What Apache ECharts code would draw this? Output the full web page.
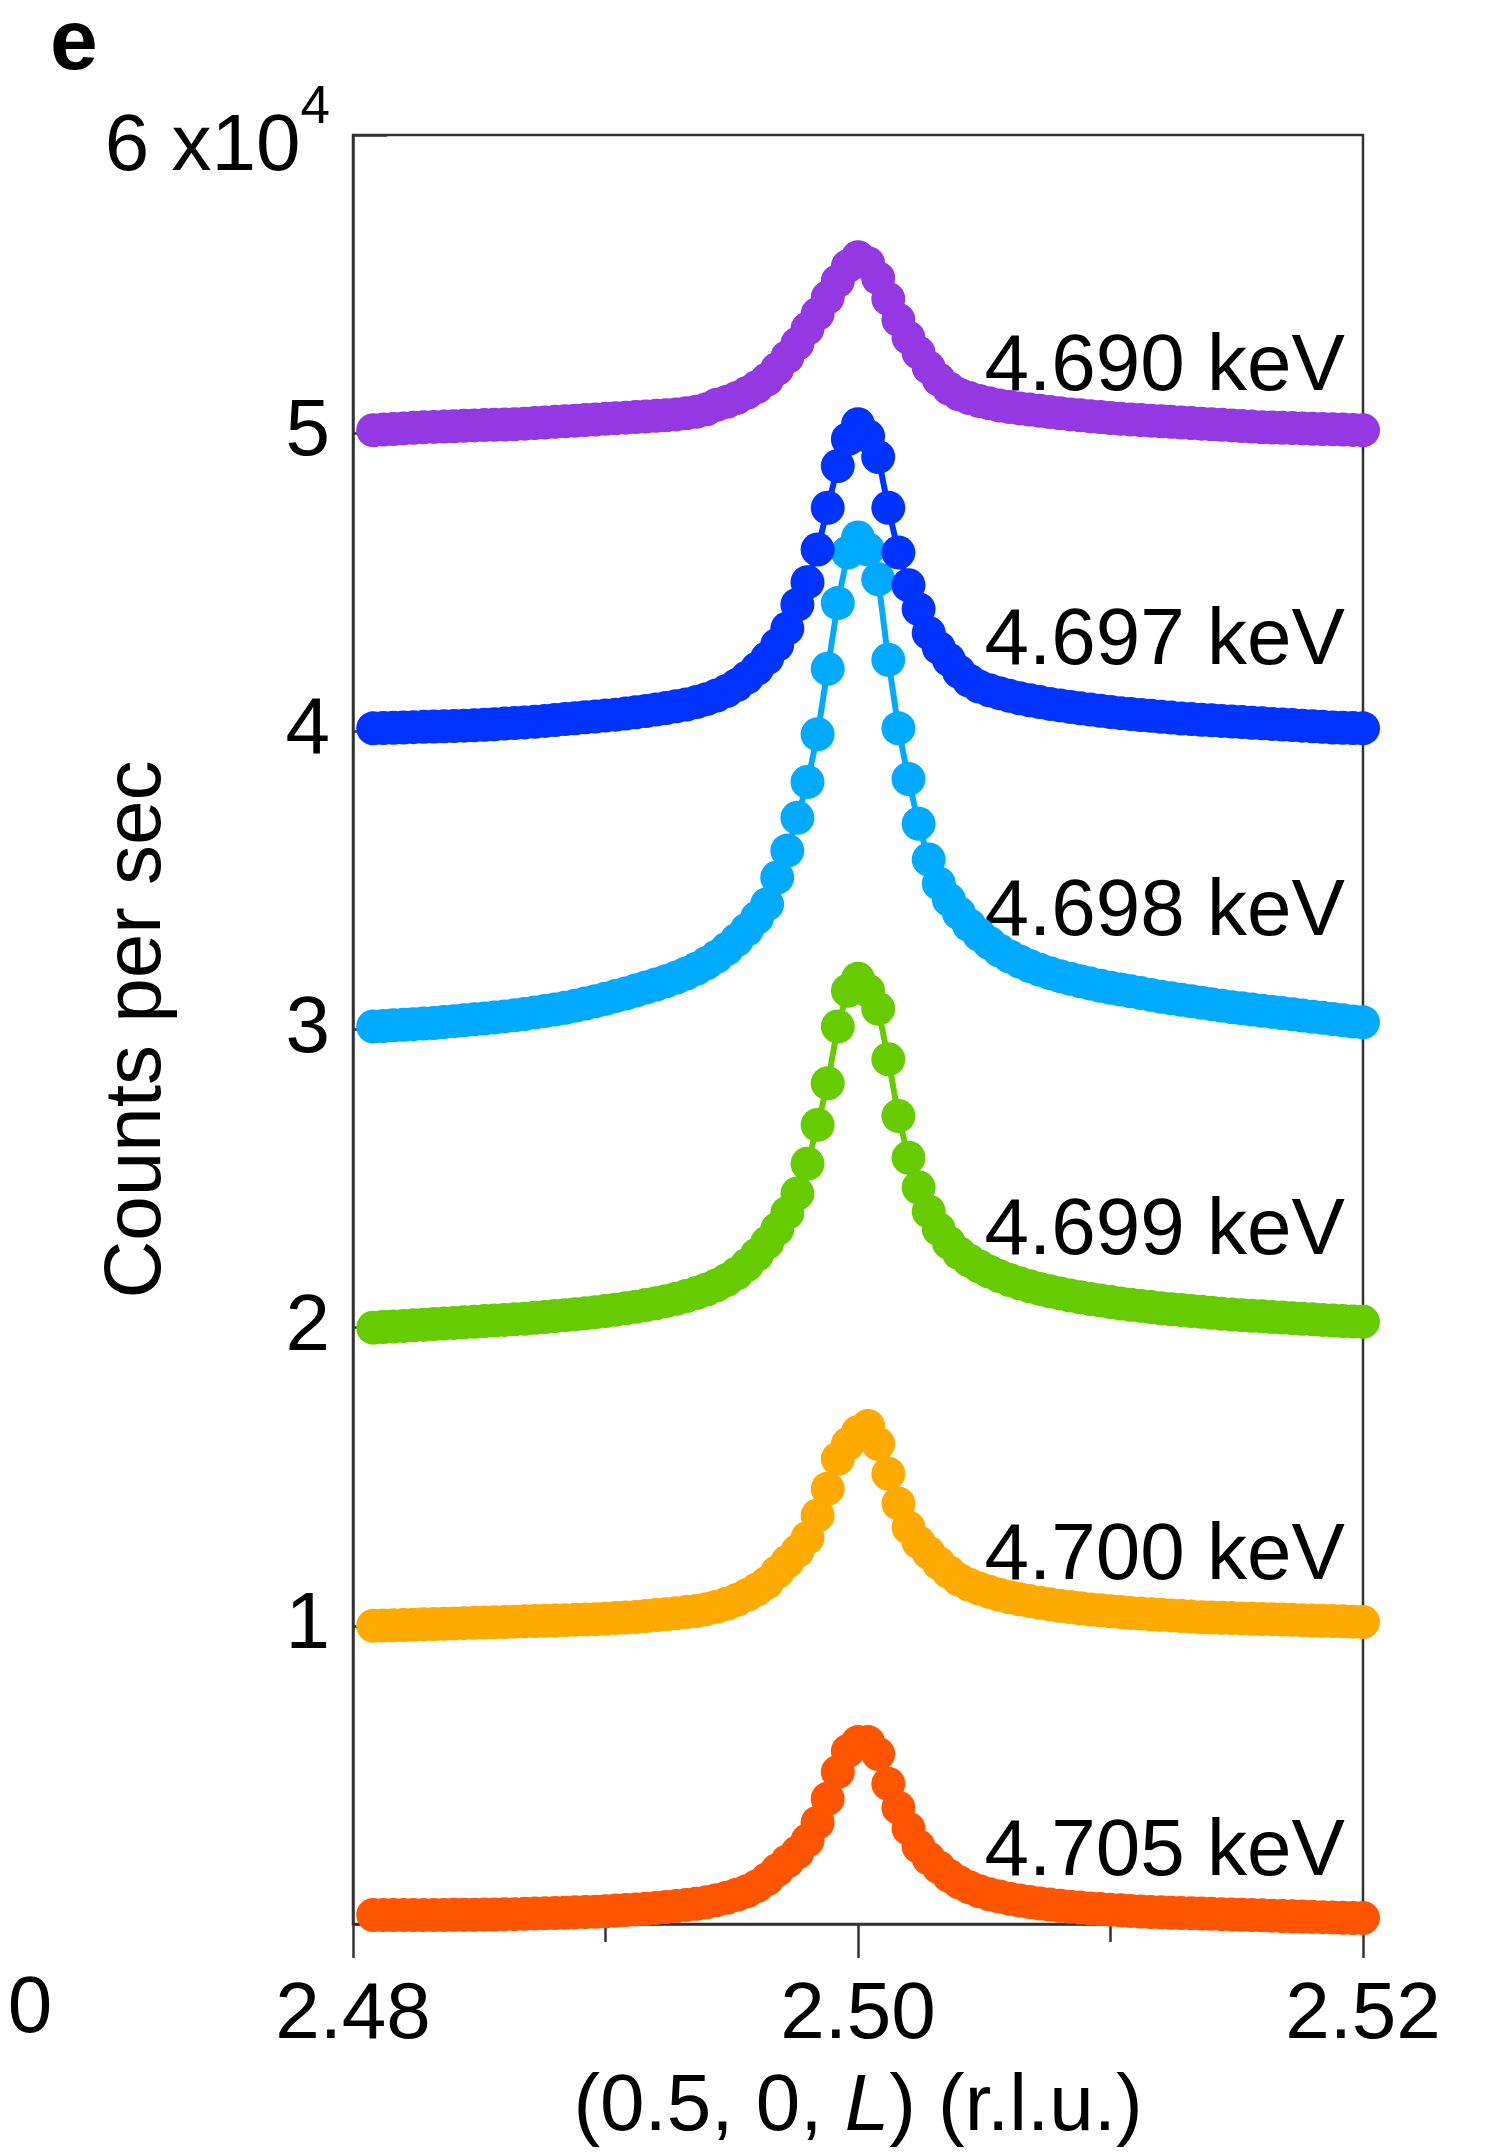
<!DOCTYPE html>
<html>
<head>
<meta charset="utf-8">
<script src="https://cdn.jsdelivr.net/npm/echarts/dist/echarts.min.js"></script>
<style>
html,body{margin:0;padding:0;background:#fff;}
#chart{width:1502px;height:2155px;}
</style>
</head>
<body>
<div id="chart"></div>
<script>
// ---- DATA ----
// L positions (r.l.u.)
const L = [
2.4808,2.4812,2.4816,2.4820,2.4824,2.4828,2.4832,2.4836,2.4840,2.4844,
2.4848,2.4852,2.4856,2.4860,2.4864,2.4868,2.4872,2.4876,2.4880,2.4884,
2.4888,2.4892,2.4896,2.4900,2.4904,2.4908,2.4912,2.4916,2.4920,2.4924,
2.4928,2.4932,2.4936,2.4940,2.4944,2.4948,2.4952,2.4956,2.4960,2.4964,
2.4968,2.4972,2.4976,2.4980,2.4984,2.4988,2.4992,2.4996,2.5000,2.5004,
2.5008,2.5012,2.5016,2.5020,2.5024,2.5028,2.5032,2.5036,2.5040,2.5044,
2.5048,2.5052,2.5056,2.5060,2.5064,2.5068,2.5072,2.5076,2.5080,2.5084,
2.5088,2.5092,2.5096,2.5100,2.5104,2.5108,2.5112,2.5116,2.5120,2.5124,
2.5128,2.5132,2.5136,2.5140,2.5144,2.5148,2.5152,2.5156,2.5160,2.5164,
2.5168,2.5172,2.5176,2.5180,2.5184,2.5188,2.5192,2.5196,2.5200];

// Counts per sec (x10^4), vertically offset curves
const cps4690 = [
5.010,5.012,5.014,5.016,5.018,5.020,5.021,5.022,5.023,5.025,
5.026,5.027,5.028,5.029,5.030,5.032,5.034,5.036,5.038,5.040,
5.042,5.044,5.046,5.048,5.050,5.052,5.054,5.056,5.058,5.060,
5.063,5.067,5.072,5.080,5.095,5.105,5.118,5.135,5.155,5.180,
5.215,5.255,5.300,5.350,5.400,5.455,5.510,5.560,5.590,5.570,
5.520,5.450,5.380,5.320,5.270,5.220,5.180,5.150,5.130,5.118,
5.108,5.100,5.093,5.088,5.083,5.079,5.075,5.071,5.067,5.063,
5.060,5.057,5.054,5.051,5.048,5.046,5.044,5.042,5.040,5.038,
5.036,5.034,5.032,5.030,5.028,5.026,5.024,5.022,5.020,5.019,
5.018,5.017,5.016,5.015,5.014,5.013,5.012,5.011,5.010];
const cps4697 = [
4.010,4.011,4.012,4.013,4.014,4.015,4.016,4.017,4.018,4.019,
4.020,4.022,4.024,4.026,4.028,4.030,4.032,4.035,4.038,4.041,
4.044,4.047,4.050,4.053,4.056,4.060,4.064,4.068,4.073,4.078,
4.084,4.090,4.098,4.108,4.120,4.135,4.155,4.180,4.210,4.245,
4.290,4.345,4.425,4.500,4.610,4.750,4.890,4.980,5.030,4.990,
4.920,4.750,4.600,4.490,4.410,4.330,4.280,4.240,4.200,4.170,
4.150,4.138,4.128,4.119,4.111,4.104,4.098,4.092,4.087,4.082,
4.077,4.073,4.069,4.065,4.061,4.058,4.055,4.052,4.049,4.046,
4.043,4.041,4.039,4.037,4.035,4.033,4.031,4.029,4.027,4.025,
4.023,4.021,4.019,4.017,4.015,4.013,4.012,4.011,4.010];
const cps4698 = [
3.010,3.012,3.014,3.016,3.018,3.020,3.022,3.025,3.028,3.031,
3.034,3.037,3.040,3.044,3.048,3.052,3.057,3.062,3.067,3.073,
3.080,3.087,3.095,3.103,3.112,3.121,3.131,3.141,3.151,3.162,
3.174,3.188,3.204,3.222,3.244,3.270,3.300,3.335,3.375,3.420,
3.510,3.600,3.710,3.830,3.990,4.210,4.430,4.600,4.650,4.610,
4.510,4.240,4.010,3.840,3.690,3.570,3.490,3.435,3.390,3.350,
3.318,3.290,3.265,3.245,3.228,3.213,3.200,3.189,3.179,3.170,
3.162,3.154,3.147,3.140,3.134,3.128,3.122,3.116,3.110,3.105,
3.100,3.095,3.090,3.085,3.080,3.075,3.071,3.067,3.063,3.059,
3.055,3.051,3.047,3.043,3.039,3.035,3.031,3.027,3.024];
const cps4699 = [
2.000,2.002,2.004,2.006,2.008,2.010,2.012,2.014,2.016,2.018,
2.020,2.022,2.024,2.026,2.028,2.030,2.033,2.036,2.039,2.042,
2.045,2.048,2.052,2.056,2.060,2.065,2.070,2.076,2.082,2.089,
2.097,2.106,2.116,2.128,2.142,2.160,2.182,2.210,2.245,2.285,
2.330,2.385,2.450,2.550,2.680,2.820,3.010,3.130,3.170,3.130,
3.070,2.900,2.710,2.570,2.470,2.390,2.330,2.285,2.250,2.225,
2.205,2.188,2.173,2.160,2.149,2.139,2.130,2.122,2.115,2.108,
2.102,2.096,2.091,2.086,2.081,2.077,2.073,2.069,2.065,2.062,
2.059,2.056,2.053,2.050,2.047,2.044,2.042,2.040,2.038,2.036,
2.034,2.032,2.030,2.028,2.026,2.024,2.022,2.021,2.020];
const cps4700 = [
1.000,1.001,1.002,1.003,1.004,1.005,1.006,1.007,1.008,1.009,
1.010,1.011,1.012,1.013,1.014,1.015,1.016,1.017,1.018,1.019,
1.020,1.021,1.022,1.024,1.026,1.028,1.030,1.033,1.036,1.039,
1.042,1.046,1.050,1.056,1.064,1.074,1.087,1.103,1.122,1.145,
1.180,1.215,1.250,1.295,1.370,1.460,1.560,1.610,1.650,1.670,
1.610,1.510,1.410,1.330,1.280,1.245,1.210,1.180,1.155,1.138,
1.125,1.114,1.104,1.096,1.089,1.083,1.077,1.072,1.067,1.063,
1.059,1.055,1.052,1.049,1.046,1.043,1.041,1.039,1.037,1.035,
1.033,1.031,1.029,1.028,1.027,1.026,1.025,1.024,1.023,1.022,
1.021,1.020,1.019,1.018,1.017,1.016,1.015,1.014,1.013];
const cps4705 = [
0.030,0.030,0.030,0.030,0.030,0.030,0.030,0.030,0.031,0.031,
0.031,0.032,0.032,0.033,0.033,0.034,0.035,0.036,0.037,0.038,
0.039,0.040,0.041,0.043,0.045,0.047,0.049,0.051,0.054,0.057,
0.060,0.064,0.068,0.073,0.080,0.088,0.098,0.110,0.127,0.150,
0.180,0.210,0.240,0.280,0.340,0.420,0.510,0.580,0.610,0.610,
0.570,0.470,0.390,0.320,0.260,0.220,0.190,0.162,0.140,0.123,
0.110,0.100,0.092,0.085,0.079,0.074,0.069,0.065,0.061,0.058,
0.055,0.052,0.050,0.048,0.046,0.044,0.042,0.040,0.039,0.038,
0.037,0.036,0.035,0.034,0.033,0.032,0.031,0.030,0.029,0.028,
0.027,0.026,0.025,0.024,0.023,0.022,0.021,0.020,0.020];

const energies = ['4.705 keV','4.700 keV','4.699 keV','4.698 keV','4.697 keV','4.690 keV'];
const xTicks = [2.48, 2.50, 2.52];
const yTicks = [0, 1, 2, 3, 4, 5, 6];

// ---- STYLE / LAYOUT ----
const seriesValues = [cps4705, cps4700, cps4699, cps4698, cps4697, cps4690];
const colors = ['#FF5500', '#FFAA00', '#66CC00', '#00AAFF', '#0033FF', '#9338E2'];
// label anchors (right edge, vertical centre) in data coordinates
const labelAnchor = [[2.5193, 0.24], [2.5193, 1.23], [2.5193, 2.32], [2.5193, 3.39], [2.5193, 4.30], [2.5193, 5.22]];
const FONT = '"Liberation Sans", Arial, Helvetica, sans-serif';

const chart = echarts.init(document.getElementById('chart'), null, {renderer: 'canvas'});

const series = energies.map((name, s) => ({
  type: 'line',
  name: name,
  data: L.map((x, i) => [x, seriesValues[s][i]]),
  symbol: 'circle',
  symbolSize: 34,
  showSymbol: true,
  showAllSymbol: true,
  clip: false,
  z: 3 + s,
  itemStyle: {color: colors[s]},
  lineStyle: {color: colors[s], width: 6},
  emphasis: {disabled: true},
  markPoint: {
    silent: true,
    symbol: 'circle',
    symbolSize: 1,
    itemStyle: {color: 'rgba(0,0,0,0)'},
    label: {show: true, position: 'left', distance: 0, formatter: '{b}', fontSize: 80, color: '#000', fontFamily: FONT},
    data: [{name: name, coord: labelAnchor[s]}]
  }
}));

const option = {
  animation: false,
  backgroundColor: '#fff',
  textStyle: {fontFamily: FONT},
  grid: {left: 353, top: 135, width: 1010, height: 1789, show: true, borderColor: '#333', borderWidth: 2.5, backgroundColor: 'transparent'},
  xAxis: {
    type: 'value', min: xTicks[0], max: xTicks[xTicks.length - 1], interval: xTicks[1] - xTicks[0],
    name: '(0.5, 0, {i|L}) (r.l.u.)', nameLocation: 'middle', nameGap: 144, nameMoveOverlap: false,
    nameTextStyle: {fontSize: 80, color: '#000', fontFamily: FONT,
      rich: {i: {fontStyle: 'italic', fontSize: 80, color: '#000', fontFamily: FONT}}},
    axisLine: {lineStyle: {color: '#333', width: 2.5}},
    axisTick: {show: true, inside: false, length: 34, lineStyle: {color: '#333', width: 2.5}},
    minorTick: {show: true, splitNumber: 2, length: 18, lineStyle: {color: '#333', width: 2.5}},
    axisLabel: {fontSize: 80, color: '#000', margin: 52, fontFamily: FONT, showMinLabel: true, showMaxLabel: true,
      formatter: v => v.toFixed(2)},
    splitLine: {show: false}
  },
  yAxis: {
    type: 'value', min: yTicks[0], max: yTicks[yTicks.length - 1], interval: 1,
    name: 'Counts per sec', nameLocation: 'middle', nameGap: 175, nameRotate: 90, nameMoveOverlap: false,
    nameTextStyle: {fontSize: 80, color: '#000', fontFamily: FONT},
    axisLine: {show: true, lineStyle: {color: '#333', width: 2.5}},
    axisTick: {show: true, inside: true, length: 34, lineStyle: {color: '#333', width: 2.5}},
    axisLabel: {fontSize: 80, color: '#000', margin: 23, fontFamily: FONT, showMinLabel: true, showMaxLabel: true,
      formatter: v => v === 6 ? '{m|6 x10}{s|4}' : (v === 0 ? '' : String(v)),
      rich: {
        m: {fontSize: 80, color: '#000', fontFamily: FONT, verticalAlign: 'bottom'},
        s: {fontSize: 53, color: '#000', fontFamily: FONT, verticalAlign: 'top', padding: [0, 0, 53, 0]}
      }},
    splitLine: {show: false}
  },
  graphic: [
    {type: 'text', left: 50, top: 2, style: {text: 'e', font: 'bold 86px ' + FONT, fill: '#000'}},
    {type: 'text', x: 30, y: 2010, style: {text: '0', font: '80px ' + FONT, fill: '#000', align: 'center', verticalAlign: 'middle'}}
  ],
  series: series
};
chart.setOption(option);
</script>
</body>
</html>
